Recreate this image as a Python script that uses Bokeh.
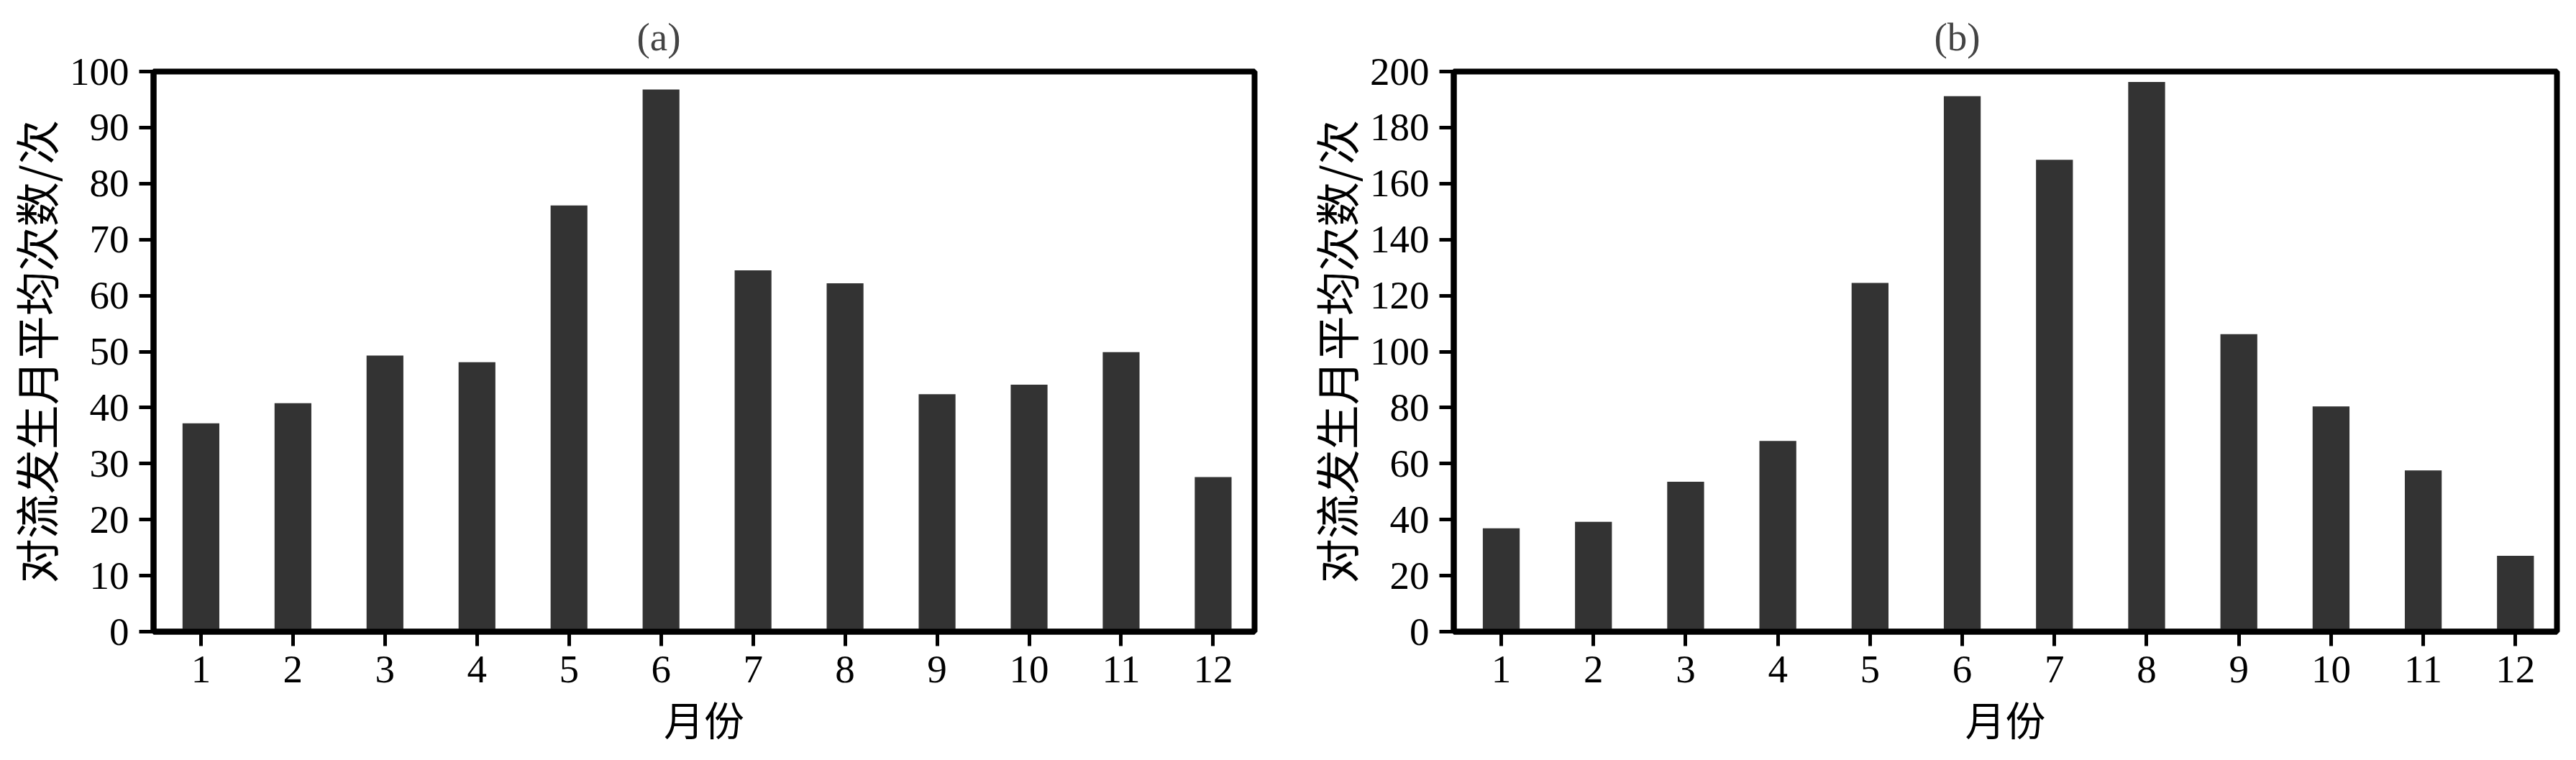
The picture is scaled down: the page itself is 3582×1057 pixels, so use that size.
from bokeh.plotting import figure
from bokeh.models import Range1d, FixedTicker
from bokeh.layouts import row
from bokeh.embed import file_html
from bokeh.resources import INLINE

months = [1, 2, 3, 4, 5, 6, 7, 8, 9, 10, 11, 12]
values_a = [37.2, 40.8, 49.3, 48.1, 76.1, 96.8, 64.5, 62.2, 42.4, 44.1, 49.9, 27.6]
values_b = [36.9, 39.2, 53.5, 68.1, 124.5, 191.2, 168.5, 196.3, 106.2, 80.4, 57.6, 27.1]
yticks_a = [0, 10, 20, 30, 40, 50, 60, 70, 80, 90, 100]
yticks_b = [0, 20, 40, 60, 80, 100, 120, 140, 160, 180, 200]
ylabel = "对流发生月平均次数/次"
xlabel = "月份"
titles = ["(a)", "(b)"]

SERIF = "Liberation Serif"
CJK = "Noto Sans CJK SC"


def make(values, yticks, title, width, left, right, title_offset):
    p = figure(width=width, height=1041, output_backend="svg", toolbar_location=None,
               x_range=Range1d(0.485, 12.45), y_range=Range1d(0, yticks[-1]),
               min_border_left=left, min_border_right=right, min_border_top=99,
               min_border_bottom=150)
    p.vbar(x=months, top=values, width=0.4, fill_color="#333333", line_color=None)
    p.title.text = title
    p.title.align = "left"
    p.title.text_font = SERIF
    p.title.text_font_size = "55px"
    p.title.text_font_style = "normal"
    p.title.offset = title_offset
    p.title.standoff = 35
    p.grid.visible = False
    p.outline_line_color = "black"
    p.outline_line_width = 8
    p.background_fill_color = "white"
    p.border_fill_color = "white"
    for ax in (p.xaxis[0], p.yaxis[0]):
        ax.axis_line_width = 8
        ax.axis_line_color = "black"
        ax.major_tick_line_width = 5
        ax.major_tick_out = 20
        ax.major_tick_in = 0
        ax.minor_tick_line_color = None
        ax.major_label_text_font = SERIF
        ax.major_label_text_font_size = "55px"
        ax.major_label_text_color = "black"
        ax.axis_label_text_font = CJK
        ax.axis_label_text_font_style = "normal"
        ax.axis_label_text_color = "black"
    p.xaxis.ticker = FixedTicker(ticks=months)
    p.yaxis.ticker = FixedTicker(ticks=yticks)
    p.xaxis.axis_label = xlabel
    p.yaxis.axis_label = ylabel
    p.xaxis.axis_label_text_font_size = "56px"
    p.yaxis.axis_label_text_font_size = "62px"
    p.xaxis.major_label_standoff = 14
    p.yaxis.major_label_standoff = 14
    p.xaxis.axis_label_standoff = 6
    p.yaxis.axis_label_standoff = 0
    return p


p1 = make(values_a, yticks_a, titles[0], 1808, 208, 64, 672)
p2 = make(values_b, yticks_b, titles[1], 1766, 209, 19, 668)
layout = row(p1, p2)
open("out.html", "w").write(file_html(layout, INLINE))
